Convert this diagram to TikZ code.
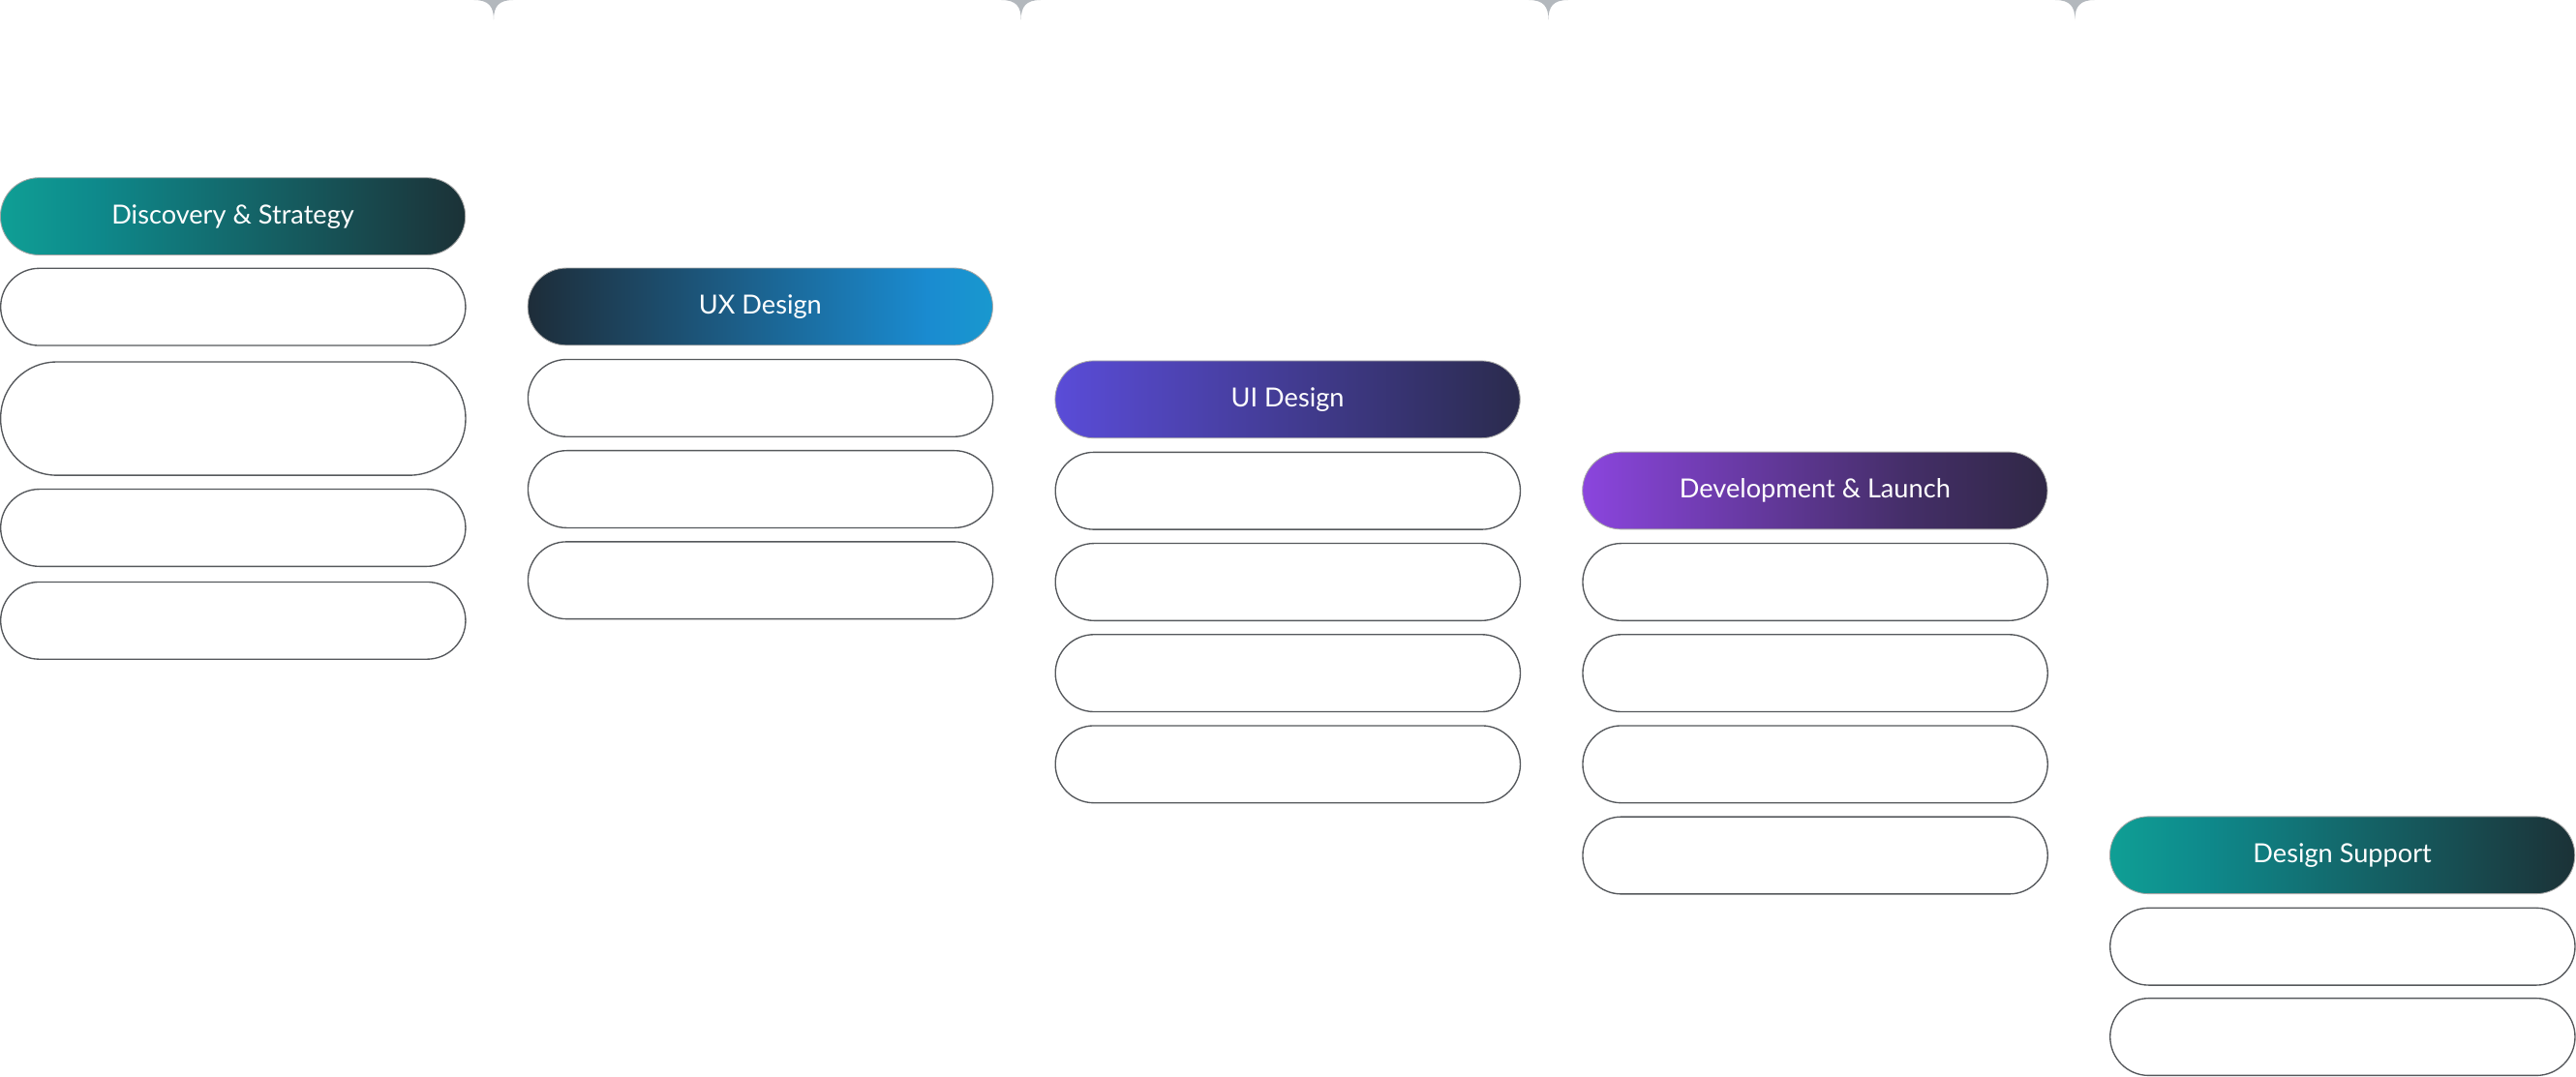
\documentclass[tikz,border=0pt]{standalone}
\usepackage{fontspec}
\setmainfont{Lato}
\definecolor{teal1}{HTML}{12D3AA}
\definecolor{teal2}{HTML}{0E8A8C}
\definecolor{dark1}{HTML}{1E2228}
\definecolor{blue1}{HTML}{1A8BD0}
\definecolor{cyan1}{HTML}{14C8CC}
\definecolor{blue2}{HTML}{3A9AE4}
\definecolor{purp1}{HTML}{5A4CD8}
\definecolor{purp2}{HTML}{6B4BE6}
\definecolor{purp3}{HTML}{8B45DE}
\definecolor{edge}{HTML}{55585C}
\definecolor{mark}{HTML}{B3B8BD}
\pgfdeclarehorizontalshading{discsh}{100bp}{color(0bp)=(teal1); color(35bp)=(teal2); color(82bp)=(dark1); color(100bp)=(dark1)}
\pgfdeclarehorizontalshading{uxsh}{100bp}{color(0bp)=(dark1); color(25bp)=(dark1!90!blue1); color(68bp)=(blue1); color(100bp)=(cyan1)}
\pgfdeclarehorizontalshading{uish}{100bp}{color(0bp)=(blue2); color(25bp)=(purp1); color(60bp)=(purp1!45!dark1); color(88bp)=(dark1); color(100bp)=(dark1)}
\pgfdeclarehorizontalshading{devsh}{100bp}{color(0bp)=(purp2); color(25bp)=(purp3); color(60bp)=(purp3!35!dark1); color(88bp)=(dark1); color(100bp)=(dark1)}
\tikzset{
  hdr/.style={anchor=north west, minimum width=283pt, minimum height=47pt, rounded corners=23.5pt, draw=gray!70, line width=0.5pt, text=white, font=\fontsize{16}{18}\selectfont, inner sep=0pt},
  itembox/.style={anchor=north west, minimum width=283pt, minimum height=47pt, rounded corners=23.5pt, draw=edge, line width=0.8pt, fill=white, inner sep=0pt},
  tallbox/.style={itembox, minimum height=69pt, rounded corners=34pt},
  marker/.style={fill=mark, draw=none}
}
\begin{document}
\begin{tikzpicture}[x=1pt,y=1pt]
\useasboundingbox (0,0) rectangle (1568,-655.3);
\fill[white] (0,0) rectangle (1568,-655.3);
% top markers
\foreach \mx in {300.5,621.5,942.5,1263} {
  \fill[marker] (\mx-12,0) .. controls (\mx-3,0) and (\mx,-4) .. (\mx,-12) .. controls (\mx,-4) and (\mx+3,0) .. (\mx+12,0) -- cycle;
}
% column 1
\node[hdr, shading=discsh] (h1) at (0,-108) {Discovery \& Strategy};
\node[itembox] (b11) at (0,-163) {};
\node[tallbox] (b12) at (0,-220) {};
\node[itembox] (b13) at (0,-297.5) {};
\node[itembox] (b14) at (0,-354) {};
% column 2
\node[hdr, shading=uxsh] (h2) at (321,-163) {UX Design};
\node[itembox] (b21) at (321,-218.5) {};
\node[itembox] (b22) at (321,-274) {};
\node[itembox] (b23) at (321,-329.5) {};
% column 3
\node[hdr, shading=uish] (h3) at (642,-219.5) {UI Design};
\node[itembox] (b31) at (642,-275) {};
\node[itembox] (b32) at (642,-330.5) {};
\node[itembox] (b33) at (642,-386) {};
\node[itembox] (b34) at (642,-441.5) {};
% column 4
\node[hdr, shading=devsh] (h4) at (963,-275) {Development \& Launch};
\node[itembox] (b41) at (963,-330.5) {};
\node[itembox] (b42) at (963,-386) {};
\node[itembox] (b43) at (963,-441.5) {};
\node[itembox] (b44) at (963,-497) {};
% column 5
\node[hdr, shading=discsh] (h5) at (1284,-497) {Design Support};
\node[itembox] (b51) at (1284,-552.5) {};
\node[itembox] (b52) at (1284,-607.5) {};
\end{tikzpicture}
\end{document}
